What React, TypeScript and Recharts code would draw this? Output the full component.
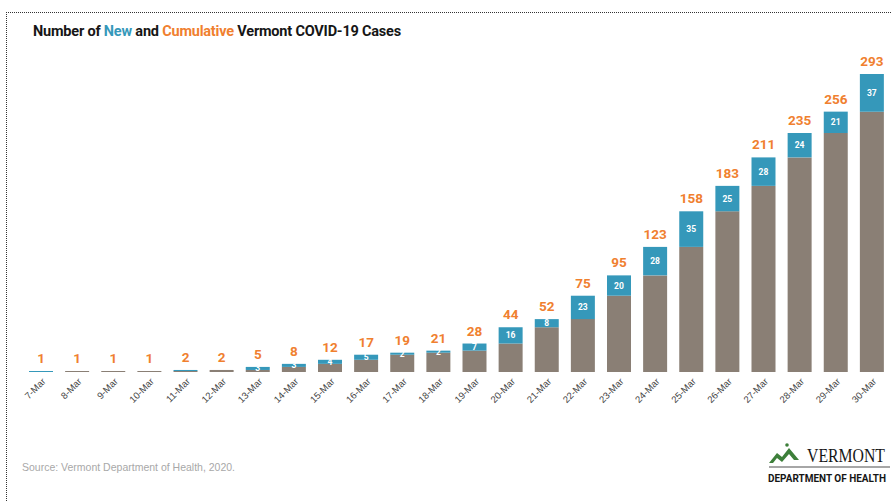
import React from 'react';
import { ComposedChart, Bar, Line, XAxis, YAxis, LabelList } from 'recharts';

// Vermont COVID-19: new vs cumulative cases, 7–30 March 2020
const dates = [
  '7-Mar', '8-Mar', '9-Mar', '10-Mar', '11-Mar', '12-Mar', '13-Mar', '14-Mar',
  '15-Mar', '16-Mar', '17-Mar', '18-Mar', '19-Mar', '20-Mar', '21-Mar', '22-Mar',
  '23-Mar', '24-Mar', '25-Mar', '26-Mar', '27-Mar', '28-Mar', '29-Mar', '30-Mar',
];
const cumulative = [1, 1, 1, 1, 2, 2, 5, 8, 12, 17, 19, 21, 28, 44, 52, 75, 95, 123, 158, 183, 211, 235, 256, 293];
const newCases = [1, 0, 0, 0, 1, 0, 3, 3, 4, 5, 2, 2, 7, 16, 8, 23, 20, 28, 35, 25, 28, 24, 21, 37];

const C = {
  grey: '#8a7f75',
  blue: '#3598ba',
  orange: '#f0802f',
  ink: '#161616',
  tick: '#444',
  source: '#a8a8a8',
  green: '#3d7f3a',
};

const rows = dates.map((d, i) => ({
  date: d,
  prev: cumulative[i] - newCases[i],
  added: newCases[i],
  total: cumulative[i],
}));

function DateTick(props: any) {
  const { x, y, payload } = props;
  return (
    <g transform={`translate(${x + 3},${y})`}>
      <text x={0} y={0} dy={3} textAnchor="end" transform="rotate(-45)" fontSize={9.5} fill={C.tick} fontFamily="Arial, Liberation Sans, sans-serif">
        {payload.value}
      </text>
    </g>
  );
}

function NewLabel(props: any) {
  const { x, y, width, height, value } = props;
  if (value < 2) return null;
  return (
    <text x={x + width / 2} y={y + height / 2} dy={3} textAnchor="middle" fill="#fff" fontSize={8.5} fontWeight={700} fontFamily="Roboto, sans-serif">
      {value}
    </text>
  );
}

function TotalLabel(props: any) {
  const { x, y, value } = props;
  return (
    <text x={x} y={y - 8} textAnchor="middle" fill={C.orange} fontSize={13.5} fontWeight={700} fontFamily="Roboto, sans-serif">
      {value}
    </text>
  );
}

export default function App() {
  return (
    <div style={{ position: 'absolute', left: 0, top: 0, width: 892, height: 502, background: '#fff', overflow: 'hidden' }}>
      {/* dotted frame */}
      <div style={{ position: 'absolute', left: 6, top: 12, width: 900, height: 500, borderTop: '1px dotted #333', borderLeft: '1px dotted #333' }} />

      <div style={{ position: 'absolute', left: 33, top: 23, fontFamily: 'Roboto, sans-serif', fontWeight: 700, fontSize: 14.5, color: C.ink, letterSpacing: '-0.2px' }}>
        Number of <span style={{ color: C.blue }}>New</span> and <span style={{ color: C.orange }}>Cumulative</span> Vermont COVID-19 Cases
      </div>

      <div style={{ position: 'absolute', left: 0, top: 0 }}>
        <ComposedChart width={892} height={502} data={rows} margin={{ top: 74, right: 2, left: 23, bottom: 80 }} barSize={24}>
          <XAxis dataKey="date" interval={0} axisLine={false} tickLine={false} height={50} tick={<DateTick />} />
          <YAxis hide domain={[0, 'dataMax']} />
          <Bar dataKey="prev" stackId="a" fill={C.grey} isAnimationActive={false} />
          <Bar dataKey="added" stackId="a" fill={C.blue} isAnimationActive={false}>
            <LabelList dataKey="added" content={<NewLabel />} />
          </Bar>
          <Line dataKey="total" stroke="none" dot={false} activeDot={false} isAnimationActive={false}>
            <LabelList dataKey="total" content={<TotalLabel />} />
          </Line>
        </ComposedChart>
      </div>

      <div style={{ position: 'absolute', left: 22, top: 461, fontFamily: 'Arial, Liberation Sans, sans-serif', fontSize: 10.5, color: C.source }}>
        Source: Vermont Department of Health, 2020.
      </div>

      {/* logo */}
      <svg style={{ position: 'absolute', left: 766, top: 440 }} width={124} height={48}>
        <path d="M3 23 L11 13 L16 17 L23 8 L33 20 L28 20 L23 14 L16 22 L11 18 L7 23 Z" fill={C.green} />
        <circle cx={21} cy={5} r={1.8} fill={C.green} />
        <g transform="translate(41,22) scale(1,1.25)">
          <text x={0} y={0} fontFamily="Liberation Serif, DejaVu Serif, serif" fontSize={15} fill={C.ink} textLength={78} lengthAdjust="spacingAndGlyphs">
            VERMONT
          </text>
        </g>
        <line x1={3} y1={27} x2={124} y2={27} stroke="#888" strokeWidth={1.5} />
        <g transform="translate(2,42) scale(1,1.15)">
          <text x={0} y={0} fontFamily="Roboto, sans-serif" fontWeight={700} fontSize={9.5} fill={C.ink} textLength={118} lengthAdjust="spacingAndGlyphs">
            DEPARTMENT OF HEALTH
          </text>
        </g>
      </svg>
    </div>
  );
}
